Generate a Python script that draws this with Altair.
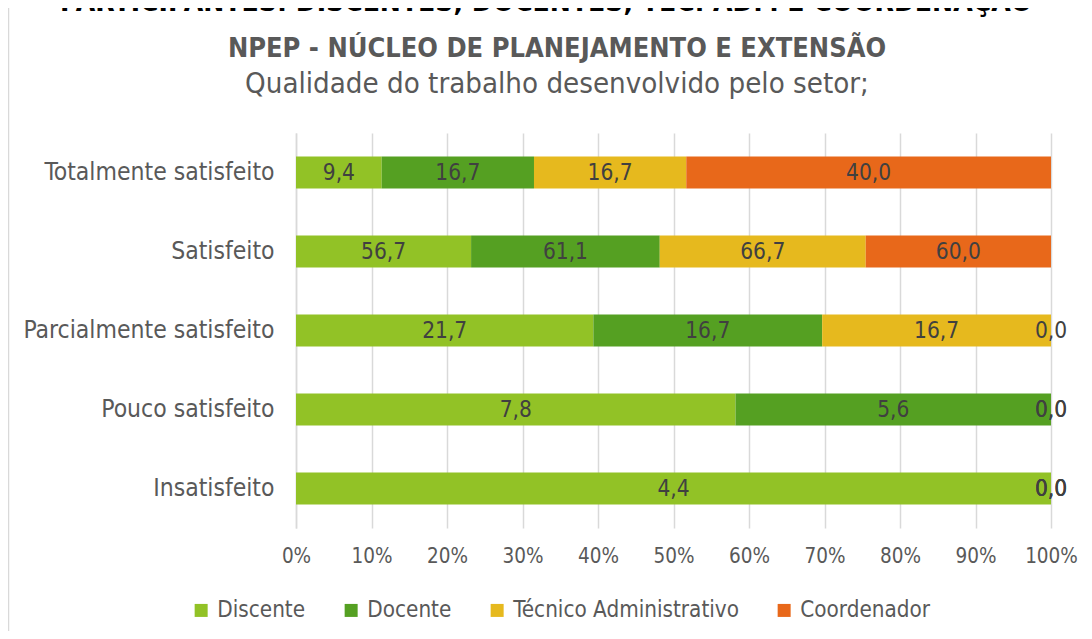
import altair as alt
import pandas as pd

categories = ["Totalmente satisfeito", "Satisfeito", "Parcialmente satisfeito",
              "Pouco satisfeito", "Insatisfeito"]
series = ["Discente", "Docente", "Técnico Administrativo", "Coordenador"]
discente = [9.4, 56.7, 21.7, 7.8, 4.4]
docente = [16.7, 61.1, 16.7, 5.6, 0.0]
tecnico = [16.7, 66.7, 16.7, 0.0, 0.0]
coordenador = [40.0, 60.0, 0.0, 0.0, 0.0]
colors = ["#92C226", "#55A022", "#E6B91E", "#E8681A"]
x_ticks = [0, 0.1, 0.2, 0.3, 0.4, 0.5, 0.6, 0.7, 0.8, 0.9, 1.0]

rows = []
for si, (s, vals) in enumerate(zip(series, [discente, docente, tecnico, coordenador])):
    for c, v in zip(categories, vals):
        rows.append({"cat": c, "series": s, "order": si, "value": v})
df = pd.DataFrame(rows)

FONT = "DejaVu Sans Condensed"
GRAY = "#595959"

base = alt.Chart(df).transform_stack(
    stack="value", groupby=["cat"], as_=["v0", "v1"], offset="normalize",
    sort=[alt.SortField("order", order="ascending")]
).transform_calculate(
    mid="(datum.v0 + datum.v1) / 2",
    label="replace(format(datum.value, '.1f'), '.', ',')"
)

y_scale = alt.Scale(paddingInner=0.595, paddingOuter=0.2975)
x_scale = alt.Scale(domain=[0, 1], nice=False)

y_axis = alt.Axis(labelFontSize=24.5, labelColor=GRAY, labelFont=FONT,
                  labelPadding=22, ticks=False, domainColor="#D9D9D9",
                  domainWidth=1.5, grid=False, labelLimit=400)
x_axis = alt.Axis(values=x_ticks, format=".0%", grid=True, gridColor="#D9D9D9",
                  gridWidth=1.5, domain=False, ticks=False, labelPadding=18,
                  labelFlush=False, labelFontSize=20.5, labelColor=GRAY,
                  labelFont=FONT)

bars = base.mark_bar().encode(
    y=alt.Y("cat:N", sort=categories, title=None, scale=y_scale, axis=y_axis),
    x=alt.X("v0:Q", title=None, scale=x_scale, axis=x_axis),
    x2="v1:Q",
    color=alt.Color("series:N", scale=alt.Scale(domain=series, range=colors),
                    legend=alt.Legend(title=None, orient="none", direction="horizontal",
                                      legendX=-106, legendY=466, symbolType="square",
                                      symbolSize=169, symbolStrokeWidth=0,
                                      labelFontSize=22.3, labelColor=GRAY, labelFont=FONT,
                                      labelOffset=5, columnPadding=34, labelLimit=400)),
    order=alt.Order("order:Q"),
)

labels = base.mark_text(fontSize=22.5, color="#404040", font=FONT, baseline="middle").encode(
    y=alt.Y("cat:N", sort=categories, title=None, scale=y_scale, axis=y_axis),
    x=alt.X("mid:Q", title=None, scale=x_scale, axis=x_axis),
    text="label:N",
)

deco = alt.Chart(alt.Data(values=[{"t": "NPEP - NÚCLEO DE PLANEJAMENTO E EXTENSÃO",
                                    "s": "Qualidade do trabalho desenvolvido pelo setor;",
                                    "h": "PARTICIPANTES: DISCENTES, DOCENTES, TEC. ADM E COORDENAÇÃO"}]))

frame = deco.mark_rect(fillOpacity=0, stroke="#D9D9D9", strokeWidth=1.5).encode(
    x=alt.value(-287.5), x2=alt.value(800), y=alt.value(-127.5), y2=alt.value(520))

head = deco.mark_text(fontSize=28, fontWeight="bold", color="black", font=FONT,
                      baseline="alphabetic").encode(
    x=alt.value(250), y=alt.value(-122), text="h:N")

title = deco.mark_text(fontSize=27, fontWeight="bold", color=GRAY, font=FONT,
                       baseline="middle").encode(
    x=alt.value(261), y=alt.value(-84), text="t:N")

subtitle = deco.mark_text(fontSize=29.2, color=GRAY, font=FONT, baseline="middle").encode(
    x=alt.value(261), y=alt.value(-49), text="s:N")

chart = alt.layer(frame, head, title, subtitle, bars, labels).resolve_scale(
    x="shared", y="shared"
).properties(
    width=755, height=395,
    background="white",
    autosize=alt.AutoSizeParams(type="none"),
    padding={"left": 288, "top": 125, "right": 33, "bottom": 103},
).configure_view(stroke="transparent", strokeWidth=0)

chart.save("out.html", embed_options={"renderer": "svg", "actions": False})
